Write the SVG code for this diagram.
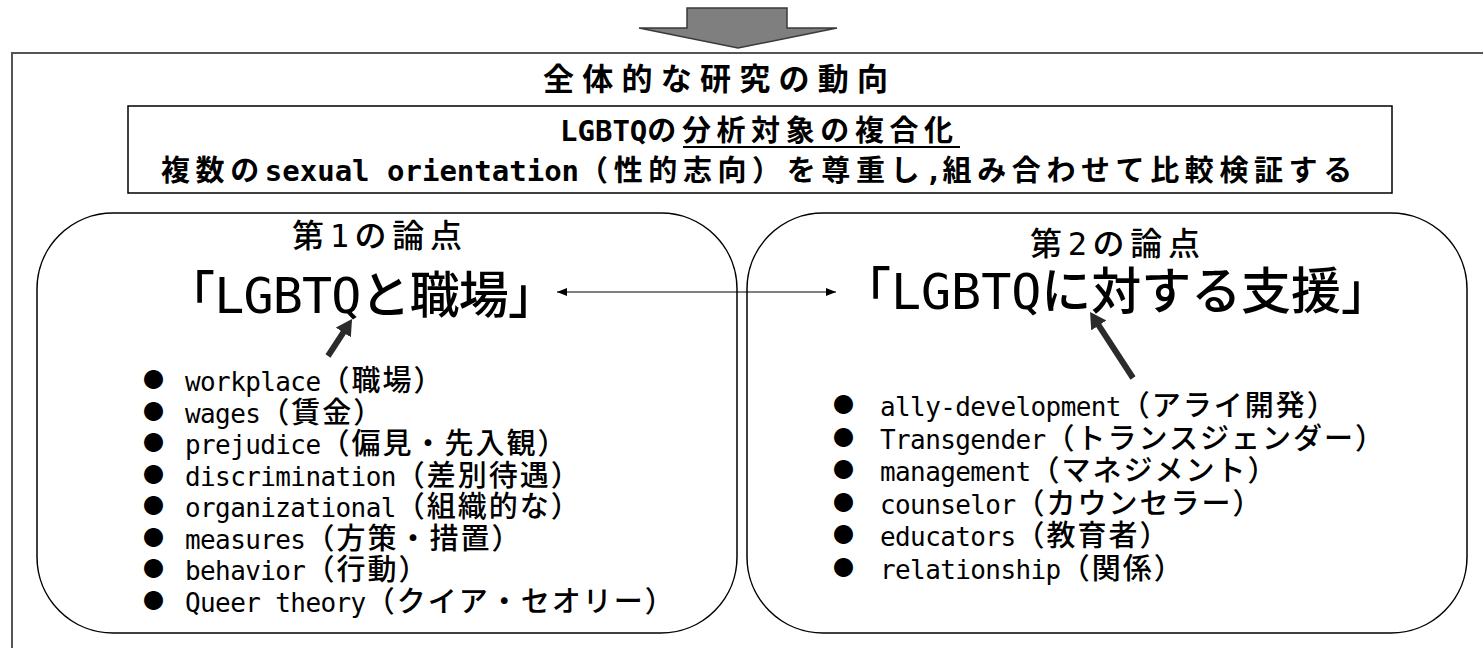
<svg xmlns="http://www.w3.org/2000/svg" width="1483" height="648" viewBox="0 0 1483 648">
<style>
text{text-spacing-trim:space-all;fill:#000}
.m{font-family:"DejaVu Sans Mono","Noto Sans CJK JP",monospace}
.jp{font-family:"Noto Sans CJK JP",sans-serif}
.b{font-weight:bold}
.md{font-weight:500}
.li{font-size:26px;letter-spacing:-0.6px}
.lc{font-family:"Noto Sans CJK JP",sans-serif;font-size:29px;letter-spacing:2px;font-weight:500}
.bul{font-family:"Noto Sans CJK JP",sans-serif;font-size:21px}
.box{fill:#fff;stroke:#000;stroke-width:1.5}
.thin{stroke:#000;stroke-width:1.2;fill:none}
.thick{stroke:#2b2b2b;stroke-width:6;fill:none}
</style>
<defs>
<marker id="ah" markerUnits="userSpaceOnUse" markerWidth="10" markerHeight="8" refX="10" refY="4" orient="auto-start-reverse"><path d="M0,0 L10,4 L0,8 z" fill="#000"/></marker>
<marker id="th" markerUnits="userSpaceOnUse" markerWidth="18" markerHeight="18" refX="4" refY="9" orient="auto"><path d="M0,0 L16,9 L0,18 z" fill="#2b2b2b"/></marker>
</defs>

<g id="top-arrow">
<path d="M687,8 H787 V28 H837 L738,48 L639,28 H687 Z" fill="#7f7f7f" stroke="#3a3a3a" stroke-width="1.5"/>
</g>

<g id="overall">
<rect x="12" y="53" width="1490" height="620" fill="none" stroke="#555" stroke-width="2"/>
<text class="jp b" x="543" y="90" font-size="31" textLength="345" lengthAdjust="spacing">全体的な研究の動向</text>
</g>

<g id="summary">
<rect class="box" x="128" y="106" width="1264" height="87" stroke-width="2"/>
<text class="m b" x="560" y="141" font-size="29"><tspan>LGBTQ</tspan><tspan class="jp" letter-spacing="5.6">の分析対象の複合化</tspan></text>
<line x1="683" y1="147" x2="960" y2="147" stroke="#000" stroke-width="2"/>
<text class="m b" x="161" y="181" font-size="29"><tspan class="jp" letter-spacing="5.6">複数の</tspan><tspan>sexual orientation</tspan><tspan class="jp" letter-spacing="5.6">（性的志向）を尊重し</tspan><tspan>,</tspan><tspan class="jp" letter-spacing="5.6">組み合わせて比較検証する</tspan></text>
</g>

<g id="point1">
<rect class="box" x="37" y="213" width="700" height="420" rx="76" ry="76"/>
<text class="m md" x="292" y="247" font-size="32" textLength="170" lengthAdjust="spacing">第1の論点</text>
<text class="m md" x="165" y="313" font-size="50" textLength="393" lengthAdjust="spacing">「LGBTQと職場」</text>
<g id="list1">
<text class="bul" x="143" y="387">●</text>
<text class="m li" x="185" y="391">workplace<tspan class="lc">（職場）</tspan></text>
<text class="bul" x="143" y="418.5">●</text>
<text class="m li" x="185" y="422.5">wages<tspan class="lc">（賃金）</tspan></text>
<text class="bul" x="143" y="450">●</text>
<text class="m li" x="185" y="454">prejudice<tspan class="lc">（偏見・先入観）</tspan></text>
<text class="bul" x="143" y="481.5">●</text>
<text class="m li" x="185" y="485.5">discrimination<tspan class="lc">（差別待遇）</tspan></text>
<text class="bul" x="143" y="513">●</text>
<text class="m li" x="185" y="517">organizational<tspan class="lc">（組織的な）</tspan></text>
<text class="bul" x="143" y="544.5">●</text>
<text class="m li" x="185" y="548.5">measures<tspan class="lc">（方策・措置）</tspan></text>
<text class="bul" x="143" y="576">●</text>
<text class="m li" x="185" y="580">behavior<tspan class="lc">（行動）</tspan></text>
<text class="bul" x="143" y="607.5">●</text>
<text class="m li" x="185" y="611.5">Queer theory<tspan class="lc">（クイア・セオリー）</tspan></text>
</g>
</g>

<g id="point2">
<rect class="box" x="747" y="213" width="720" height="420" rx="76" ry="76"/>
<text class="m md" x="1030" y="255" font-size="32" textLength="170" lengthAdjust="spacing">第2の論点</text>
<text class="m md" x="841" y="309" font-size="50" textLength="550" lengthAdjust="spacing">「LGBTQに対する支援」</text>
<g id="list2">
<text class="bul" x="833" y="412">●</text>
<text class="m li" x="880" y="416">ally-development<tspan class="lc">（アライ開発）</tspan></text>
<text class="bul" x="833" y="444.5">●</text>
<text class="m li" x="880" y="448.5">Transgender<tspan class="lc">（トランスジェンダー）</tspan></text>
<text class="bul" x="833" y="477">●</text>
<text class="m li" x="880" y="481">management<tspan class="lc">（マネジメント）</tspan></text>
<text class="bul" x="833" y="509.5">●</text>
<text class="m li" x="880" y="513.5">counselor<tspan class="lc">（カウンセラー）</tspan></text>
<text class="bul" x="833" y="542">●</text>
<text class="m li" x="880" y="546">educators<tspan class="lc">（教育者）</tspan></text>
<text class="bul" x="833" y="574.5">●</text>
<text class="m li" x="880" y="578.5">relationship<tspan class="lc">（関係）</tspan></text>
</g>
</g>

<g id="connectors">
<line class="thin" x1="557" y1="292" x2="836" y2="292" marker-start="url(#ah)" marker-end="url(#ah)"/>
<line class="thick" x1="328" y1="356" x2="345.5" y2="329.1" marker-end="url(#th)"/>
<line class="thick" x1="1133" y1="378" x2="1096.6" y2="322.1" marker-end="url(#th)"/>
</g>
</svg>
